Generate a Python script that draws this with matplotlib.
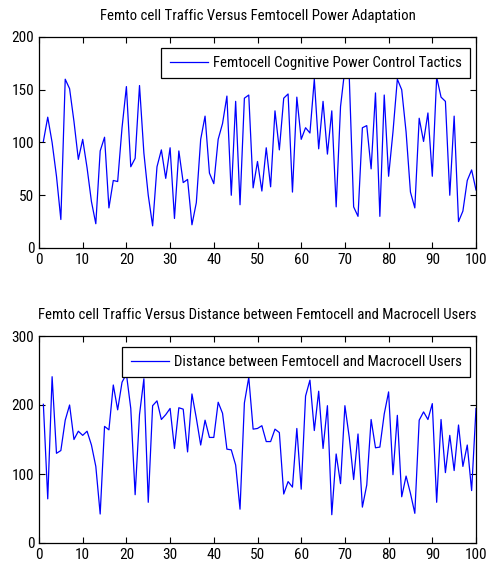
import numpy as np
import matplotlib
matplotlib.use('Agg')
import matplotlib.pyplot as plt

plt.rcParams['font.family'] = ['Liberation Sans Narrow', 'Roboto Condensed',
                               'Archivo Narrow', 'Liberation Sans']

# x = 1..100
x = np.arange(1, 101)

power = [101, 124, 100, 68, 27, 160, 151, 120, 84, 103,
         76, 44, 23, 92, 105, 38, 64, 63, 114, 153,
         77, 85, 154, 90, 50, 21, 77, 93, 66, 95,
         28, 92, 62, 65, 22, 43, 103, 125, 71, 61,
         103, 118, 144, 50, 139, 41, 142, 145, 57, 82,
         54, 95, 58, 130, 93, 142, 146, 53, 143, 103,
         114, 109, 160, 94, 139, 89, 130, 39, 134, 170,
         162, 39, 30, 114, 116, 75, 147, 30, 145, 68,
         110, 160, 150, 110, 53, 38, 123, 101, 128, 68,
         162, 143, 139, 50, 125, 25, 35, 64, 74, 55]

distance = [201, 64, 241, 130, 134, 178, 200, 150, 162, 156,
            162, 142, 111, 42, 169, 164, 229, 193, 233, 245,
            195, 70, 186, 238, 59, 199, 206, 179, 186, 195,
            137, 196, 194, 132, 216, 181, 142, 178, 153, 153,
            204, 188, 136, 135, 113, 49, 203, 240, 165, 166,
            170, 147, 147, 165, 160, 71, 89, 81, 166, 78,
            213, 236, 163, 220, 137, 199, 41, 129, 86, 199,
            153, 92, 158, 52, 84, 179, 138, 139, 187, 219,
            99, 185, 67, 97, 72, 43, 178, 190, 179, 202,
            59, 179, 102, 156, 105, 171, 111, 142, 76, 195]

titles = ['Femto cell Traffic Versus Femtocell Power Adaptation',
          'Femto cell Traffic Versus Distance between Femtocell and Macrocell Users']
labels = ['Femtocell Cognitive Power Control Tactics',
          'Distance between Femtocell and Macrocell Users']

fig = plt.figure(figsize=(4.92, 5.71), dpi=100)
ax1 = fig.add_axes([39/492, 1 - 248/571, 437/492, 211/571])
ax2 = fig.add_axes([39/492, 1 - 543/571, 437/492, 207/571])

def style(ax, ys, ylim, yticks, title, label, leg_anchor):
    ax.plot(x, ys, color=(0, 0, 1), lw=0.9, label=label)
    ax.set_xlim(0, 100)
    ax.set_ylim(*ylim)
    ax.set_xticks(range(0, 101, 10))
    ax.set_yticks(yticks)
    ax.tick_params(direction='in', top=True, right=True, labelsize=11,
                   length=4, width=0.8, pad=3.5)
    for s in ax.spines.values():
        s.set_linewidth(0.9)
    ax.set_title(title, fontsize=10.6, pad=12.5)
    leg = ax.legend(loc='upper right', bbox_to_anchor=leg_anchor,
                    borderaxespad=0, fancybox=False, edgecolor='black',
                    framealpha=1, fontsize=10.6, handlelength=2.6,
                    handletextpad=0.35, borderpad=0.55)
    leg.get_frame().set_linewidth(0.9)

style(ax1, power, (0, 200), range(0, 201, 50), titles[0], labels[0],
      (1 - 6/437, 1 - 11/211))
style(ax2, distance, (0, 300), range(0, 301, 100), titles[1], labels[1],
      (1 - 6/437, 1 - 11/207))

fig.savefig('out.png', dpi=100)
